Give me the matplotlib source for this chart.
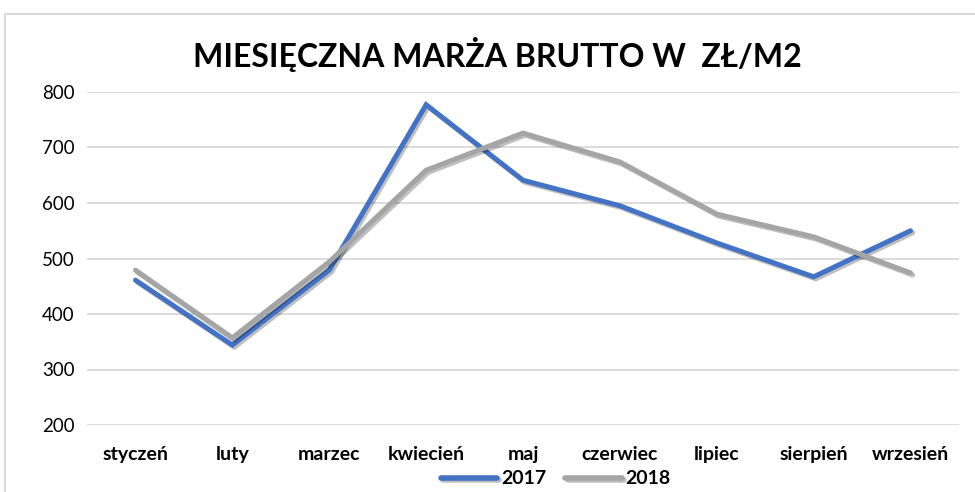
import matplotlib
matplotlib.use('Agg')
import matplotlib.pyplot as plt
import matplotlib.patheffects as pe
from matplotlib.patches import Rectangle

plt.rcParams['font.family'] = ['Lato', 'DejaVu Sans']

# Data
months = ['styczeń', 'luty', 'marzec', 'kwiecień', 'maj',
          'czerwiec', 'lipiec', 'sierpień', 'wrzesień']
margin_2017 = [461, 344, 479, 777, 641, 595, 528, 467, 550]
margin_2018 = [479, 357, 494, 659, 726, 674, 580, 539, 474]
yticks = [200, 300, 400, 500, 600, 700, 800]

fig = plt.figure(figsize=(9.75, 4.92), dpi=100)
ax = fig.add_axes([87 / 975, 1 - 425 / 492, (959 - 87) / 975, (425 - 92) / 492])

# outer chart border
fig.patches.append(Rectangle((5 / 975, -0.1), 1.1, 1 - 14 / 492 + 0.1, transform=fig.transFigure,
                             fill=False, edgecolor='#D9D9D9', linewidth=1.5))

x = range(len(months))
shadow = [pe.SimpleLineShadow(offset=(1.5, -1.5), alpha=0.25, shadow_color='black'), pe.Normal()]
ax.plot(x, margin_2017, color='#4472C4', linewidth=3.6, label='2017',
        solid_capstyle='round', solid_joinstyle='miter', path_effects=shadow, zorder=3)
ax.plot(x, margin_2018, color='#A5A5A5', linewidth=3.6, label='2018',
        solid_capstyle='round', solid_joinstyle='miter', path_effects=shadow, zorder=3)

ax.set_xlim(-0.5, len(months) - 0.5)
ax.set_ylim(200, 800)
ax.set_yticks(yticks)
ax.set_xticks(list(x))
ax.set_xticklabels(months, fontweight='bold', fontsize=14)
ax.tick_params(axis='y', labelsize=13.5, length=0, pad=9)
ax.tick_params(axis='x', length=0, pad=15)
ax.grid(axis='y', color='#D9D9D9', linewidth=1.3)
ax.set_axisbelow(True)
for s in ax.spines.values():
    s.set_visible(False)

fig.text(0.51, 1 - 55 / 492, 'MIESIĘCZNA MARŻA BRUTTO W  ZŁ/M2', ha='center', va='center',
         fontsize=23, fontweight='bold')

leg = fig.legend(loc='center', bbox_to_anchor=(0.57, 1 - 479 / 492), ncol=2, frameon=False,
                 prop={'weight': 'bold', 'size': 14}, handlelength=2.9, handletextpad=0.2,
                 columnspacing=1.0)
for line in leg.get_lines():
    line.set_linewidth(4)

fig.savefig('out.png', dpi=100)
